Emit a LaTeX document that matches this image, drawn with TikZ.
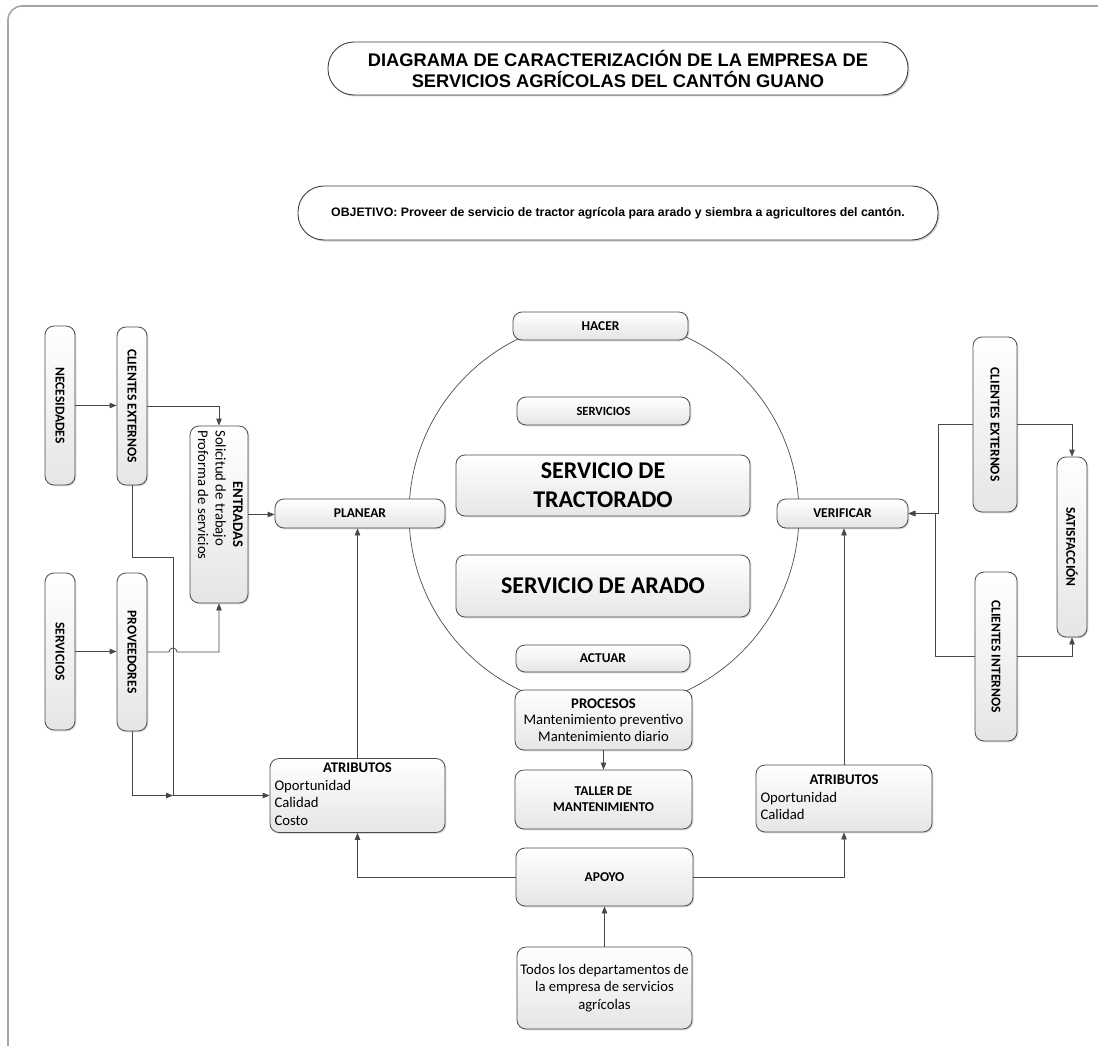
\documentclass[tikz,border=0pt]{standalone}
\usepackage{fontspec}
\setmainfont{Carlito}
\newfontfamily\arialf{Liberation Sans}
\usetikzlibrary{shadows,arrows.meta}

\begin{document}
\begin{tikzpicture}[x=1pt,y=-1pt,
  box/.style={draw=black!70, line width=0.8pt, rounded corners=9pt,
    top color=white, bottom color=black!10,
    drop shadow={shadow xshift=1.3pt,shadow yshift=-1.3pt,opacity=0.3},
    align=center, inner sep=2pt},
  capsule/.style={draw=black!75, line width=0.9pt, rounded corners=26pt, fill=white,
    drop shadow={shadow xshift=1.5pt,shadow yshift=-1.5pt,opacity=0.35},
    align=center, inner sep=2pt},
  lbl/.style={font=\fontsize{13.5}{16}\selectfont\bfseries},
  txt/.style={font=\fontsize{14.7}{17.5}\selectfont},
  conn/.style={draw=black!72, line width=0.8pt},
  arr/.style={conn, -{Triangle[length=7pt,width=5.5pt]}},
]
\useasboundingbox (0,0) rectangle (1098,1046);

% outer frame
\draw[black!35, line width=1.6pt, rounded corners=14pt] (8,1046) -- (8,6) -- (1098,6);

% PHVA circle
\draw[black!70, line width=0.7pt] (604,514) circle[radius=195];

% heading and objective
\node[capsule, minimum width=580pt, minimum height=53pt,
  font=\arialf\bfseries\fontsize{18.3}{21}\selectfont] (title) at (618,68.5)
  {DIAGRAMA DE CARACTERIZACIÓN DE LA EMPRESA DE\\SERVICIOS AGRÍCOLAS DEL CANTÓN GUANO};
\node[capsule, minimum width=640pt, minimum height=54pt,
  font=\arialf\bfseries\fontsize{12.3}{14}\selectfont] (obj) at (618,213)
  {OBJETIVO: Proveer de servicio de tractor agrícola para arado y siembra a agricultores del cantón.};

% centre column
\node[box, lbl, minimum width=175pt, minimum height=28pt] (hac) at (600.5,326) {HACER};
\node[box, font=\fontsize{12.5}{15}\selectfont\bfseries, minimum width=173pt, minimum height=28pt] (srv) at (603.5,411) {SERVICIOS};
\node[box, font=\fontsize{24}{29}\selectfont\bfseries, minimum width=294pt, minimum height=61pt] (trac) at (603,485.5) {SERVICIO DE\\TRACTORADO};
\node[box, font=\fontsize{24}{29}\selectfont\bfseries, minimum width=294pt, minimum height=62pt] (ara) at (603,586) {SERVICIO DE ARADO};
\node[box, lbl, minimum width=174pt, minimum height=27pt] (act) at (603,658.5) {ACTUAR};
\node[box, font=\fontsize{14.7}{16.5}\selectfont, minimum width=177pt, minimum height=60pt] (prc) at (603.5,720)
  {\textbf{PROCESOS}\\Mantenimiento preventivo\\Mantenimiento diario};
\node[box, lbl, minimum width=177pt, minimum height=59pt] (tal) at (603.5,799.5) {TALLER DE\\MANTENIMIENTO};
\node[box, lbl, minimum width=177pt, minimum height=58pt] (apo) at (604.5,877) {APOYO};
\node[box, txt, minimum width=175pt, minimum height=82pt] (tod) at (604.5,988)
  {Todos los departamentos de\\la empresa de servicios\\agrícolas};

% planear / verificar
\node[box, lbl, minimum width=170pt, minimum height=29pt] (pln) at (360,513.5) {PLANEAR};
\node[box, lbl, minimum width=131pt, minimum height=29pt] (ver) at (842.5,513.5) {VERIFICAR};

% attributes
\node[box, txt, minimum width=175pt, minimum height=73pt] (atl) at (357.5,795.5)
  {\begin{tabular}{@{}p{166pt}@{}}\centering\textbf{ATRIBUTOS}\tabularnewline Oportunidad\\Calidad\\Costo\end{tabular}};
\node[box, txt, minimum width=176pt, minimum height=67pt] (atr) at (844,798.5)
  {\begin{tabular}{@{}p{167pt}@{}}\centering\textbf{ATRIBUTOS}\tabularnewline Oportunidad\\Calidad\end{tabular}};

% left column
\node[box, lbl, minimum width=30pt, minimum height=159pt] (nec) at (60,405.5) {\rotatebox{-90}{NECESIDADES}};
\node[box, lbl, minimum width=30pt, minimum height=158pt] (cel) at (132,406) {\rotatebox{-90}{CLIENTES EXTERNOS}};
\node[box, lbl, minimum width=30pt, minimum height=157pt] (ser) at (60,651.5) {\rotatebox{-90}{SERVICIOS}};
\node[box, lbl, minimum width=30pt, minimum height=158pt] (pro) at (132,652) {\rotatebox{-90}{PROVEEDORES}};
\node[box, txt, minimum width=58pt, minimum height=177pt] (ent) at (219,514.5)
  {\rotatebox{-90}{\begin{tabular}{@{}p{168pt}@{}}\centering\textbf{ENTRADAS}\tabularnewline Solicitud de trabajo\\Proforma de servicios\end{tabular}}};

% right column
\node[box, lbl, minimum width=44pt, minimum height=175pt] (cer) at (995,424.5) {\rotatebox{-90}{CLIENTES EXTERNOS}};
\node[box, lbl, minimum width=30pt, minimum height=180pt] (sat) at (1072,547) {\rotatebox{-90}{SATISFACCIÓN}};
\node[box, lbl, minimum width=42pt, minimum height=169pt] (cin) at (996,656.5) {\rotatebox{-90}{CLIENTES INTERNOS}};

% routing points
\coordinate (j1) at (173,557);
\coordinate (j2) at (173,795.5);
\coordinate (h1) at (169,652);
\coordinate (v1) at (938,513.5);
\coordinate (v2) at (935,513.5);

% connectors, left side
\draw[arr] (nec.east) -- (nec.east -| cel.west);
\draw[arr] (cel.east) -| (ent.north);
\draw[arr] (cel.south) |- (j1) -- (j2) -- (atl.west);
\draw[arr] (ser.east) -- (ser.east -| pro.west);
\draw[arr] (pro.east) -- (h1) arc[start angle=180, end angle=360, radius=4] -| (ent.south);
\draw[arr] (pro.south) |- (j2);
\draw[arr] (ent.east) -- (ent.east -| pln.west);
\draw[arr] (atl.north) -- (atl.north |- pln.south);

% connectors, centre
\draw[arr] (apo.west) -| (atl.south);
\draw[arr] (apo.east) -| (atr.south);
\draw[arr] (tod.north) -- (apo.south);
\draw[arr] (prc.south) -- (tal.north);
\draw[arr] (atr.north) -- (atr.north |- ver.south);

% connectors, right side
\draw[arr] (cer.east) -| (sat.north);
\draw[arr] (cin.east) -| (sat.south);
\draw[arr] (cer.west) -| (v1) -- (ver.east);
\draw[arr] (cin.west) -| (v2) -- (ver.east);
\end{tikzpicture}
\end{document}
